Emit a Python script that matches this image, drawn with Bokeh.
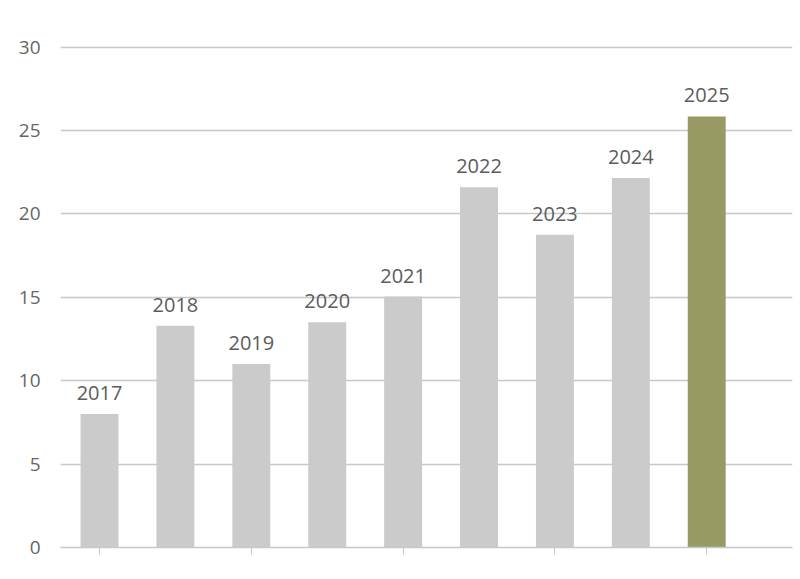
from bokeh.plotting import figure
from bokeh.models import ColumnDataSource, FixedTicker, Range1d
from bokeh.core.properties import value
from bokeh.embed import file_html
from bokeh.resources import INLINE

years = ["2017", "2018", "2019", "2020", "2021", "2022", "2023", "2024", "2025"]
values = [8.0, 13.3, 11.0, 13.5, 15.05, 21.6, 18.75, 22.15, 25.85]
colors = ["#cbcbcb"] * 8 + ["#979a63"]
y_ticks = [0, 5, 10, 15, 20, 25, 30]

xs = list(range(len(years)))
src = ColumnDataSource(dict(x=xs, top=values, label=years, color=colors))

p = figure(width=800, height=579, output_backend="svg", toolbar_location=None,
           x_range=Range1d(-0.514, 9.13), y_range=Range1d(0, 30.1),
           min_border_left=60, min_border_right=8, min_border_top=45, min_border_bottom=32)
p.outline_line_color = None
p.background_fill_color = "white"
p.border_fill_color = "white"

p.vbar(x="x", top="top", width=0.5, bottom=0, source=src, fill_color="color", line_color=None)
p.text(x="x", y="top", text="label", source=src, text_align="center", text_baseline="alphabetic",
       y_offset=-21, text_font=value("Open Sans"), text_font_size="20px", text_color="#5c5c5c")

p.xgrid.grid_line_color = None
p.ygrid.ticker = FixedTicker(ticks=y_ticks)
p.ygrid.grid_line_color = "#c8c8c8"
p.ygrid.grid_line_width = 1.5

p.yaxis.ticker = FixedTicker(ticks=y_ticks)
p.yaxis.axis_line_color = None
p.yaxis.major_tick_line_color = None
p.yaxis.minor_tick_line_color = None
p.yaxis.major_label_standoff = 14
p.yaxis.major_label_text_font = "Open Sans"
p.yaxis.major_label_text_font_size = "19px"
p.yaxis.major_label_text_color = "#666666"

p.xaxis.ticker = FixedTicker(ticks=[0, 2, 4, 6, 8])
p.xaxis.axis_line_color = "#c8c8c8"
p.xaxis.axis_line_width = 1.5
p.xaxis.major_tick_line_color = "#c8c8c8"
p.xaxis.major_tick_out = 7
p.xaxis.major_tick_in = 0
p.xaxis.minor_tick_line_color = None
p.xaxis.major_label_text_font_size = "0px"
p.xaxis.major_label_text_color = None

open("out.html", "w").write(file_html(p, INLINE))
